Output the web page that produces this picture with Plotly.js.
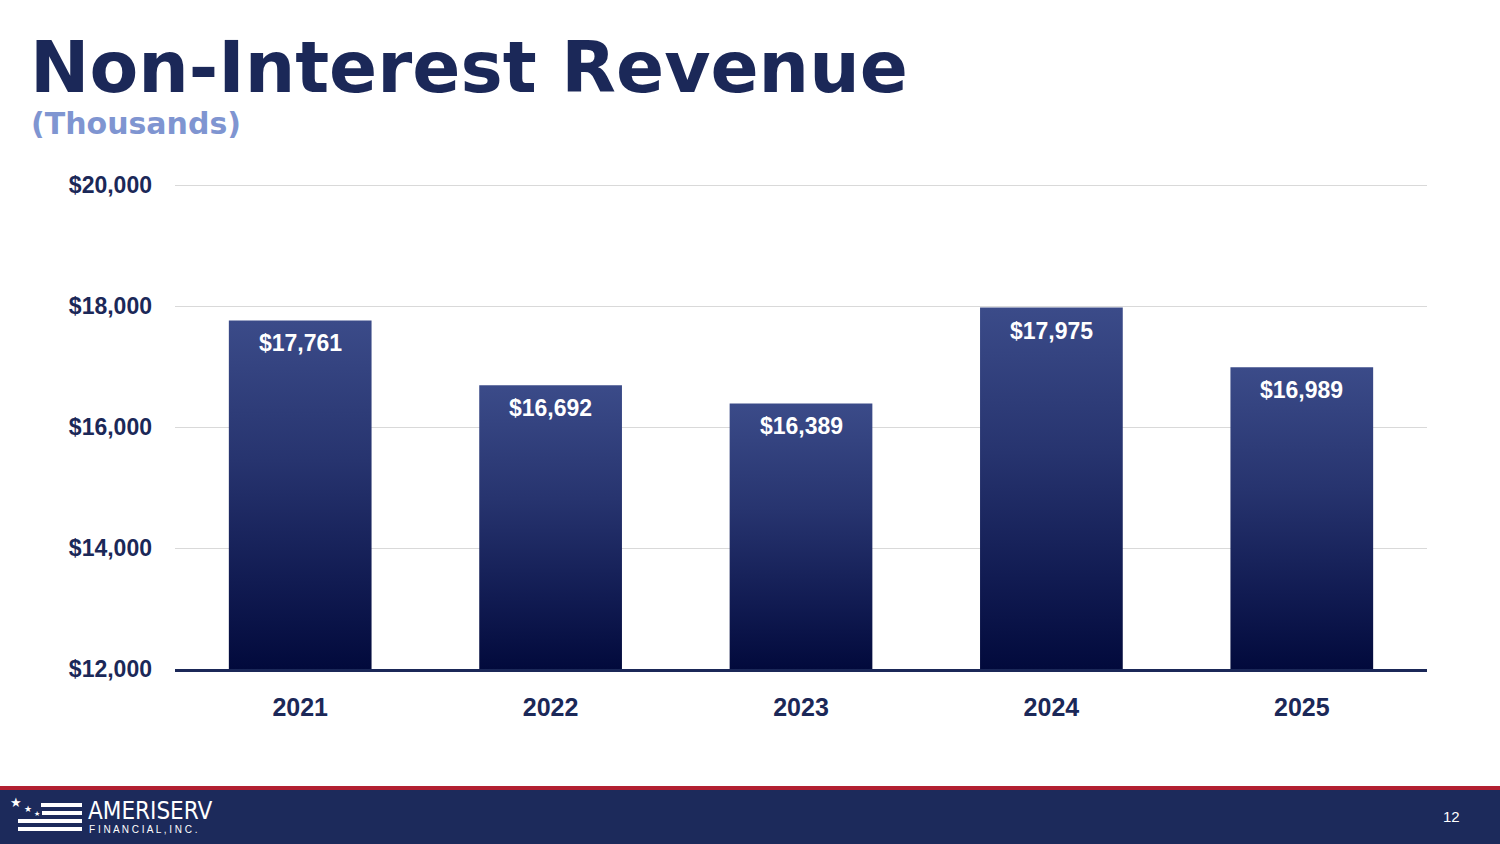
<!DOCTYPE html>
<html>
<head>
<meta charset="utf-8">
<script src="https://cdn.plot.ly/plotly-3.0.1.min.js"></script>
<style>
  html, body { margin: 0; padding: 0; background: #ffffff; }
  #chart { width: 1500px; height: 844px; }
</style>
</head>
<body>
<div id="chart"></div>
<script>
var years = ["2021", "2022", "2023", "2024", "2025"];
var revenue = [17761, 16692, 16389, 17975, 16989];
var yTicks = [12000, 14000, 16000, 18000, 20000];
var yTickLabels = ["$12,000", "$14,000", "$16,000", "$18,000", "$20,000"];

var W = 1500, H = 844;
var M = {l: 175, r: 73, t: 185, b: 175};
var navy = "#1b2858";

// pixel -> paper coordinates
function px(x) { return (x - M.l) / (W - M.l - M.r); }
function py(y) { return (H - M.b - y) / (H - M.t - M.b); }

function money(v) {
    return "$" + v.toLocaleString("en-US");
}

var bars = {
    x: years,
    y: revenue,
    type: "bar",
    marker: {color: "#1f2c65", line: {width: 0}},
    hoverinfo: "x+y",
    showlegend: false
};

var annotations = [];
// value labels, placed by category index on the bar axis
revenue.forEach(function (v, i) {
    annotations.push({
        x: i, y: v, xref: "x", yref: "y",
        text: money(v), showarrow: false,
        yshift: -23,
        font: {family: "Liberation Sans, Arial, sans-serif", size: 23, color: "#ffffff", weight: "bold"}
    });
});

// title texts
annotations.push({
    xref: "paper", yref: "paper", x: px(28), y: py(24), xanchor: "left", yanchor: "top",
    text: "<b>Non-Interest Revenue</b>", showarrow: false,
    font: {family: "DejaVu Sans, sans-serif", size: 71, color: navy}
});
annotations.push({
    xref: "paper", yref: "paper", x: px(29), y: py(104), xanchor: "left", yanchor: "top",
    text: "<b>(Thousands)</b>", showarrow: false,
    font: {family: "DejaVu Sans, sans-serif", size: 30, color: "#7f95d1"}
});

// footer texts
annotations.push({
    xref: "paper", yref: "paper", x: px(1452), y: py(816), xanchor: "center", yanchor: "middle",
    text: "12", showarrow: false,
    font: {family: "Liberation Sans, Arial, sans-serif", size: 15, color: "#ffffff"}
});
annotations.push({
    xref: "paper", yref: "paper", x: px(86), y: py(811), xanchor: "left", yanchor: "middle",
    text: "AMERISERV", showarrow: false,
    font: {family: "DejaVu Sans Condensed, DejaVu Sans, sans-serif", size: 24, color: "#ffffff"}
});
annotations.push({
    xref: "paper", yref: "paper", x: px(87), y: py(829), xanchor: "left", yanchor: "middle",
    text: "F I N A N C I A L , I N C .", showarrow: false,
    font: {family: "Liberation Sans, sans-serif", size: 10, color: "#ffffff"}
});
var stars = [[16, 802, 13], [28, 809, 9], [37, 814, 7]];
stars.forEach(function (s) {
    annotations.push({
        xref: "paper", yref: "paper", x: px(s[0]), y: py(s[1]), xanchor: "center", yanchor: "middle",
        text: "★", showarrow: false,
        font: {family: "DejaVu Sans, sans-serif", size: s[2], color: "#ffffff"}
    });
});

var shapes = [
    // top gridline (Plotly drops the one sitting on the plot edge)
    {type: "line", xref: "paper", yref: "y", x0: 0, x1: 1,
     y0: yTicks[yTicks.length - 1], y1: yTicks[yTicks.length - 1],
     line: {color: "#d9d9d9", width: 2}, layer: "below"},
    // footer band
    {type: "rect", xref: "paper", yref: "paper", x0: px(0), x1: px(W), y0: py(790), y1: py(H),
     fillcolor: "#1c2a5b", line: {width: 0}, layer: "below"},
    {type: "rect", xref: "paper", yref: "paper", x0: px(0), x1: px(W), y0: py(786), y1: py(790),
     fillcolor: "#b21f31", line: {width: 0}, layer: "below"}
];
// logo stripes
var stripes = [[41, 82, 803], [42, 82, 811], [18, 82, 819], [18, 82, 827]];
stripes.forEach(function (s) {
    shapes.push({type: "rect", xref: "paper", yref: "paper",
        x0: px(s[0]), x1: px(s[1]), y0: py(s[2]), y1: py(s[2] + 4),
        fillcolor: "#ffffff", line: {width: 0}});
});

var layout = {
    width: W, height: H,
    margin: M,
    paper_bgcolor: "#ffffff",
    plot_bgcolor: "#ffffff",
    bargap: 0.43,
    font: {family: "Liberation Sans, Arial, sans-serif", color: navy},
    xaxis: {
        type: "category",
        range: [-0.5, years.length - 0.5],
        showgrid: false,
        showline: true, linecolor: navy, linewidth: 3,
        ticks: "", ticklabelstandoff: 14,
        tickfont: {size: 25, color: navy, weight: "bold"},
        fixedrange: true
    },
    yaxis: {
        range: [12000, 20000],
        tickvals: yTicks, ticktext: yTickLabels,
        showgrid: true, gridcolor: "#d9d9d9", gridwidth: 1,
        zeroline: false, showline: false,
        ticks: "", ticklabelstandoff: 22,
        tickfont: {size: 23, color: navy, weight: "bold"},
        fixedrange: true
    },
    annotations: annotations,
    shapes: shapes,
    showlegend: false
};

var config = {displayModeBar: false, staticPlot: true};

Plotly.newPlot("chart", [bars], layout, config).then(function (gd) {
    // vertical gradient on each bar, from its top down to the axis line
    var svg = gd.querySelector(".main-svg");
    var ns = "http://www.w3.org/2000/svg";
    var defs = svg.querySelector("defs");
    var bottom = gd._fullLayout.yaxis._length;
    gd.querySelectorAll(".bars .point path").forEach(function (p, i) {
        var top = p.getBBox().y;
        var grad = document.createElementNS(ns, "linearGradient");
        grad.setAttribute("id", "barGrad" + i);
        grad.setAttribute("gradientUnits", "userSpaceOnUse");
        grad.setAttribute("x1", "0"); grad.setAttribute("y1", String(top));
        grad.setAttribute("x2", "0"); grad.setAttribute("y2", String(bottom));
        [["0", "#3b4b89"], ["0.4", "#27346f"], ["0.75", "#111b52"], ["1", "#020a3c"]].forEach(function (st) {
            var s = document.createElementNS(ns, "stop");
            s.setAttribute("offset", st[0]);
            s.setAttribute("stop-color", st[1]);
            grad.appendChild(s);
        });
        defs.appendChild(grad);
        p.style.fill = "url(#barGrad" + i + ")";
    });
});
</script>
</body>
</html>
